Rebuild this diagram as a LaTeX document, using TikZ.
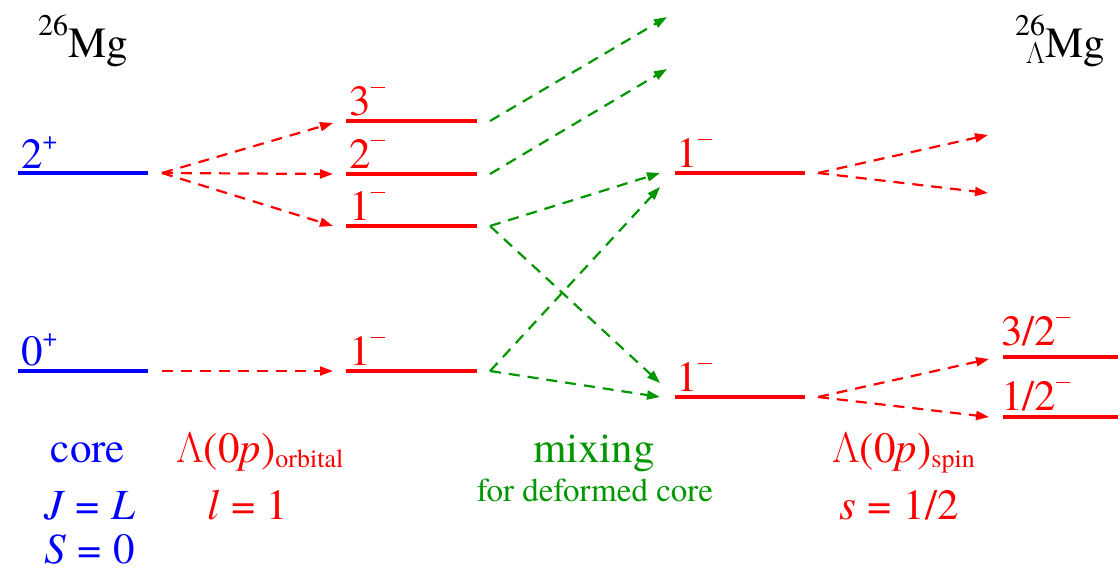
\documentclass[tikz,border=0pt]{standalone}
\usepackage{fontspec}
% Times-like text face in CFF outlines, with a fallback
\IfFontExistsTF{texgyretermes-regular.otf}{%
  \setmainfont{texgyretermes}[Extension=.otf, UprightFont=*-regular,
    ItalicFont=*-italic, BoldFont=*-bold, BoldItalicFont=*-bolditalic]}{%
  \setmainfont{Latin Modern Roman}}
\IfFontExistsTF{texgyretermes-math.otf}{%
  \newfontfamily\grk{texgyretermes-math.otf}}{%
  \newfontfamily\grk{Latin Modern Roman}}
\usetikzlibrary{arrows.meta}

\definecolor{lvblue}{RGB}{0,0,255}
\definecolor{lvred}{RGB}{255,0,0}
\definecolor{lvgreen}{RGB}{0,150,0}

% parity superscripts, nuclide notation, subscripts, relations
\newcommand\parP{\raisebox{0.42em}{\fontsize{26}{26}\selectfont +}}
\newcommand\parM{\raisebox{0.62em}{\rule{14pt}{1.8pt}}}
\newcommand\Lam{{\grk Λ}}
\newcommand\nucl[2]{\raisebox{0.5em}{\fontsize{30}{30}\selectfont #1}#2}
\newcommand\hnucl[3]{\raisebox{0.5em}{\fontsize{30}{30}\selectfont #1}\llap{\raisebox{-0.15em}{\fontsize{30}{30}\selectfont #2}}#3}
\newcommand\lsub[1]{\raisebox{-0.12em}{\fontsize{26}{26}\selectfont #1}}
\newcommand\eqq{\hspace{0.27em}\upshape=\hspace{0.27em}}

\begin{document}
\begin{tikzpicture}[x=1pt,y=-1pt,
  txt/.style={font=\fontsize{43}{48}\selectfont, inner sep=0pt},
  smalltxt/.style={font=\fontsize{33}{37}\selectfont, inner sep=0pt},
  lvl/.style={line width=3.8pt},
  trans/.style={line width=2.2pt, dash pattern=on 11pt off 8pt,
    -{Triangle[length=13pt,width=9pt]}},
]
\useasboundingbox (0,0) rectangle (1118,571);

% ---- level end points ----
\coordinate (c2a) at (18,173);   \coordinate (c2b) at (148,173);
\coordinate (c0a) at (18,371);   \coordinate (c0b) at (148,371);
\coordinate (o3a) at (346,121);  \coordinate (o3b) at (477,121);
\coordinate (o2a) at (346,174);  \coordinate (o2b) at (477,174);
\coordinate (o1a) at (346,226);  \coordinate (o1b) at (477,226);
\coordinate (o0a) at (346,371);  \coordinate (o0b) at (477,371);
\coordinate (mua) at (675,173);  \coordinate (mub) at (805,173);
\coordinate (mla) at (675,397);  \coordinate (mlb) at (805,397);
\coordinate (s3a) at (1003,357); \coordinate (s3b) at (1118,357);
\coordinate (s1a) at (1003,417); \coordinate (s1b) at (1118,417);

% ---- transition end points ----
\coordinate (fc2) at (162,173);  \coordinate (fc0) at (162,371);
\coordinate (to3) at (333,123);  \coordinate (to2) at (333,174);
\coordinate (to1) at (333,226);  \coordinate (to0) at (333,371);
\coordinate (fo3) at (490,121);  \coordinate (fo2) at (490,174);
\coordinate (fo1) at (490,226);  \coordinate (fo0) at (490,371);
\coordinate (tx3) at (667,17);   \coordinate (tx2) at (667,69);
\coordinate (tmu1) at (660,173); \coordinate (tmu2) at (660,187);
\coordinate (tml1) at (660,383); \coordinate (tml2) at (660,397);
\coordinate (fmu) at (818,173);  \coordinate (fml) at (818,397);
\coordinate (tsu1) at (988,135); \coordinate (tsu2) at (988,193);
\coordinate (tsl1) at (989,359); \coordinate (tsl2) at (989,417);

% ---- levels ----
\draw[lvl, lvblue] (c2a) -- (c2b);
\draw[lvl, lvblue] (c0a) -- (c0b);
\foreach \p in {o3,o2,o1,o0,mu,ml,s3,s1}
  \draw[lvl, lvred] (\p a) -- (\p b);

% ---- core + Lambda(0p) orbital coupling ----
\draw[trans, lvred] (fc2) -- (to3);
\draw[trans, lvred] (fc2) -- (to2);
\draw[trans, lvred] (fc2) -- (to1);
\draw[trans, lvred] (fc0) -- (to0);

% ---- mixing ----
\draw[trans, lvgreen] (fo3) -- (tx3);
\draw[trans, lvgreen] (fo2) -- (tx2);
\draw[trans, lvgreen] (fo1) -- (tmu1);
\draw[trans, lvgreen] (fo1) -- (tml1);
\draw[trans, lvgreen] (fo0) -- (tmu2);
\draw[trans, lvgreen] (fo0) -- (tml2);

% ---- spin splitting ----
\draw[trans, lvred] (fmu) -- (tsu1);
\draw[trans, lvred] (fmu) -- (tsu2);
\draw[trans, lvred] (fml) -- (tsl1);
\draw[trans, lvred] (fml) -- (tsl2);

% ---- nuclide labels ----
\node[txt, anchor=base west] (core) at (38,57) {\nucl{26}{Mg}};
\node[txt, anchor=base west] (hyp) at (1015,57) {\hnucl{26}{\Lam}{Mg}};

% ---- level labels ----
\node[txt, lvblue, anchor=base west] (l2p) at (21,168) {2\parP};
\node[txt, lvblue, anchor=base west] (l0p) at (21,365) {0\parP};
\node[txt, lvred, anchor=base west] (l3m) at (349,115) {3\parM};
\node[txt, lvred, anchor=base west] (l2m) at (349,168) {2\parM};
\node[txt, lvred, anchor=base west] (l1m) at (349,220) {1\parM};
\node[txt, lvred, anchor=base west] (l1mb) at (349,365) {1\parM};
\node[txt, lvred, anchor=base west] (m1u) at (676,167) {1\parM};
\node[txt, lvred, anchor=base west] (m1l) at (676,391) {1\parM};
\node[txt, lvred, anchor=base west] (j32) at (1001,345) {3/2\parM};
\node[txt, lvred, anchor=base west] (j12) at (1001,410) {1/2\parM};

% ---- column captions ----
\node[txt, lvblue, anchor=base] (capc) at (88,462) {core};
\node[txt, lvblue, anchor=base] (capj) at (90,519) {\itshape J\eqq\itshape L};
\node[txt, lvblue, anchor=base] (caps) at (90,563) {\itshape S\eqq 0};
\node[txt, lvred, anchor=base west] (capo) at (176,462) {\Lam(0\textit{p})\lsub{orbital}};
\node[txt, lvred, anchor=base] (capl) at (248,519) {\itshape l\eqq 1};
\node[txt, lvgreen, anchor=base] (capm) at (594,462) {mixing};
\node[smalltxt, lvgreen, anchor=base] (capd) at (595,501) {for deformed core};
\node[txt, lvred, anchor=base west] (capsp) at (832,462) {\Lam(0\textit{p})\lsub{spin}};
\node[txt, lvred, anchor=base] (caps2) at (899,519) {\itshape s\eqq 1/2};
\end{tikzpicture}
\end{document}
